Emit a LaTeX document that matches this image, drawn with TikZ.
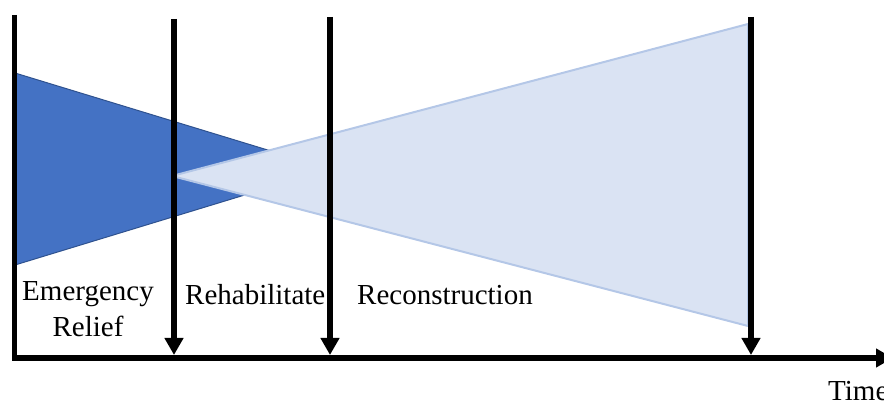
\documentclass[tikz,border=0pt]{standalone}
\usepackage{fontspec}
\setmainfont{Liberation Serif}
\usetikzlibrary{arrows.meta}
\definecolor{darkfill}{HTML}{4472C4}
\definecolor{darkline}{HTML}{2F528F}
\definecolor{lightfill}{HTML}{DAE3F3}
\definecolor{lightline}{HTML}{B4C7E7}
\begin{document}
\begin{tikzpicture}[x=1pt,y=-1pt,
  axis/.style={line width=5.5pt,-{Triangle[width=18pt,length=17pt]}},
  phase/.style={line width=5.5pt,-{Triangle[width=18pt,length=17pt]}},
  lbl/.style={font=\fontsize{29}{36}\selectfont,inner sep=0pt},
  relief/.style={fill=darkfill,draw=darkline,line width=1pt},
  recon/.style={fill=lightfill,draw=lightline,line width=2pt,line join=round}]
\useasboundingbox (0,0) rectangle (884,403);
\begin{scope}
\clip (0,0) rectangle (884,403);
% emergency relief wedge
\filldraw[relief] (15,73) -- (330,169) -- (15,265) -- cycle;
% reconstruction wedge
\filldraw[recon] (172,176) -- (748,24) -- (748,326) -- cycle;
% axes
\coordinate (origin) at (14.5,358);
\coordinate (ytop) at (14.5,15);
\coordinate (xend) at (893,358);
\draw[axis] (ytop) -- (origin) -- (xend);
% phase markers
\coordinate (a1) at (174,19);
\coordinate (a1b) at (174,355);
\coordinate (a2) at (330,17);
\coordinate (a2b) at (330,355);
\coordinate (a3) at (751,17);
\coordinate (a3b) at (751,355);
\draw[phase] (a1) -- (a1b);
\draw[phase] (a2) -- (a2b);
\draw[phase] (a3) -- (a3b);
% labels
\node[lbl,anchor=base,align=center] (emerg) at (88,337) {Emergency\\Relief};
\node[lbl,anchor=base west] (rehab) at (185,305) {Rehabilitate};
\node[lbl,anchor=base west] (recons) at (357,305) {Reconstruction};
\node[lbl,anchor=base west] (time) at (828,401) {Time};
\end{scope}
\end{tikzpicture}
\end{document}
